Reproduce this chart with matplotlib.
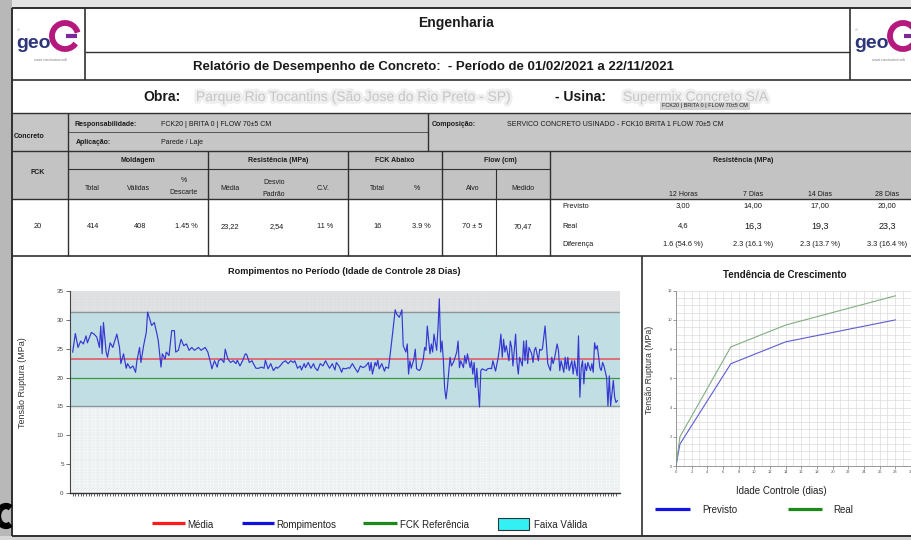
import matplotlib
matplotlib.use('Agg')
import matplotlib.pyplot as plt
from matplotlib.patches import Rectangle, Arc
import matplotlib.patheffects as pe
from matplotlib.ticker import MultipleLocator

plt.rcParams['font.family'] = ['Liberation Sans', 'DejaVu Sans']

# ---------------- data ----------------
ensaio = [0, 2, 4, 6, 8, 10, 11, 14, 16, 18, 20, 21, 22, 23, 25, 26, 28, 30, 31, 33, 35, 36, 38, 40, 41,
          43, 45, 47, 48, 50, 51, 53, 55, 56, 58, 59, 61, 63, 64, 66, 67, 69, 70, 72, 74, 76, 77, 79, 81,
          83, 85, 87, 89, 91, 94, 96, 99, 101,
          103, 104, 106, 108, 109, 111, 113, 114, 116, 118, 120, 122, 123, 125, 127, 129, 130, 132, 134,
          135, 137, 139, 141, 143, 144, 146, 148, 150, 152, 153, 155, 157, 159, 161, 163, 165, 166, 168,
          170, 171, 173, 174, 176, 178, 180, 181, 183, 185, 187, 189, 190, 192, 194, 196, 197, 199, 201,
          202, 204, 206,
          207, 209, 211, 213, 215, 217, 219, 221, 222, 223, 224, 226, 227, 228, 229, 231, 233, 234, 236,
          237, 239, 241, 242, 244, 245, 246, 247, 249, 250, 251, 252, 253, 255, 256, 257, 259, 260, 262,
          263, 264, 265, 267, 268, 269, 270, 272, 273, 274, 275, 276, 277, 278, 279, 280, 282, 283, 284,
          285, 287, 288, 289, 290, 292, 293, 294, 295, 297, 298, 299, 300, 301, 302, 304, 305, 306, 309,
          310,
          312, 313, 314, 316, 318, 319, 320, 321, 322, 323, 324, 326, 327, 328, 329, 331, 332, 333, 334,
          336, 337, 338, 339, 340, 341, 343, 344, 345, 346, 348, 349, 350, 351, 353, 354, 355, 357, 358,
          359, 360, 362, 363, 364, 365, 367, 368, 369, 370, 371, 373, 374, 375, 377, 378, 379, 380, 381,
          382, 383, 384, 385, 387, 388, 389, 390, 391, 392, 394, 395, 396, 397, 399, 400, 401, 402, 404,
          405, 406, 407]

rompimentos = [24.4, 27.6, 25.2, 26.3, 25.8, 27.2, 26.0, 27.8, 27.5, 27.0, 25.2, 28.9, 24.1, 29.5, 24.4,
               23.5, 26.0, 25.2, 26.0, 27.5, 25.2, 22.4, 24.1, 21.6, 22.4, 21.6, 22.0, 20.9, 22.9, 25.2,
               22.6, 25.5, 27.8, 31.3, 29.8, 29.0, 29.5, 27.5, 26.3, 21.8, 24.1, 23.2, 24.4, 23.8, 28.1,
               28.1, 24.4, 24.7, 26.6, 25.5, 25.8, 24.7, 25.2, 24.7, 25.2, 24.7, 25.2, 24.4,
               22.6, 21.5, 22.9, 21.8, 22.9, 23.2, 22.6, 24.9, 23.2, 22.6, 22.9, 22.4, 23.0, 22.0, 22.9,
               24.1, 24.0, 22.6, 22.9, 22.4, 21.6, 21.6, 21.8, 21.6, 23.0, 21.5, 22.4, 21.2, 21.8, 21.6,
               22.0, 22.6, 22.9, 22.4, 22.9, 22.6, 22.9, 21.6, 22.0, 21.3, 22.4, 21.7, 22.6, 21.6, 22.4,
               21.7, 21.2, 22.4, 22.0, 22.9, 22.4, 21.6, 22.4, 21.3, 22.6, 22.0, 20.9, 21.6, 21.5, 21.7,
               21.6, 22.4, 21.6, 20.9, 22.0, 21.7, 22.0, 22.6, 21.2, 22.6, 20.6, 22.6, 22.0, 23.0, 21.5,
               22.4, 21.1, 21.8, 21.6, 23.5, 27.5, 31.7, 31.0, 30.4, 31.0, 31.7, 25.5, 24.4, 25.8, 20.6,
               22.9, 21.6, 23.2, 24.9, 21.5, 21.2, 21.5, 23.2, 25.2, 24.7, 28.9, 24.1, 25.8, 24.4, 27.5,
               24.7, 28.6, 33.6, 24.4, 26.3, 22.9, 18.0, 16.3, 18.3, 23.5, 22.0, 22.4, 22.9, 24.4, 26.3,
               21.7, 22.9, 21.7, 23.8, 22.4, 24.1, 21.7, 22.9, 20.6, 22.6, 18.3, 21.6, 14.9, 21.2, 21.5,
               21.2, 21.5,
               21.6, 21.5, 22.9, 21.1, 23.5, 25.2, 27.5, 23.5, 26.6, 24.4, 25.5, 22.9, 26.3, 25.2, 22.0,
               27.5, 22.6, 20.6, 23.5, 22.0, 26.3, 22.9, 26.4, 22.4, 25.2, 24.1, 22.6, 24.7, 25.2, 22.9,
               24.9, 24.7, 24.9, 28.9, 25.8, 22.4, 21.2, 23.5, 22.4, 23.2, 25.8, 24.7, 21.2, 22.9, 20.9,
               23.5, 21.5, 23.5, 21.2, 22.9, 20.6, 22.9, 20.3, 27.2, 16.6, 21.7, 22.9, 18.9, 22.4, 21.2,
               22.6, 21.2, 22.4, 20.9, 26.0, 24.9, 25.5, 21.7, 21.2, 22.6, 22.0, 20.0, 15.1, 20.3, 15.1,
               19.5, 16.6, 15.7, 16.0]

media = 23.22
fck_referencia = 20.0
faixa_valida = (15.0, 31.4)
y_max_rompimentos = 35

idade_dias = [0, 0.5, 7, 14, 28]
previsto_curva = [0, 1.5, 7.0, 8.5, 10.0]
real_curva = [0, 2.0, 8.15, 9.65, 11.65]

moldagem = ['414', '408', '1.45 %']
resistencia = ['23,22', '2,54', '11 %']
fck_abaixo = ['16', '3.9 %']
flow = ['70 ± 5', '70,47']
idades_tab = ['12 Horas', '7 Dias', '14 Dias', '28 Dias']
previsto_tab = ['3,00', '14,00', '17,00', '20,00']
real_tab = ['4,6', '16,3', '19,3', '23,3']
diferenca_tab = ['1.6 (54.6 %)', '2.3 (16.1 %)', '2.3 (13.7 %)', '3.3 (16.4 %)']

# ---------------- figure / overlay ----------------
W, H = 912, 540
fig = plt.figure(figsize=(W / 100, H / 100), dpi=100)
fig.patch.set_facecolor('white')
ov = fig.add_axes([0, 0, 1, 1], zorder=0)
ov.set_xlim(0, W)
ov.set_ylim(H, 0)
ov.axis('off')


def box(x0, y0, x1, y1):
    return [x0 / W, 1 - y1 / H, (x1 - x0) / W, (y1 - y0) / H]


def rect(x0, y0, x1, y1, color, z=0):
    ov.add_patch(Rectangle((x0, y0), x1 - x0, y1 - y0, facecolor=color, edgecolor='none', zorder=z))


def ln(x0, y0, x1, y1, lw=1.0, color='#303030'):
    ov.plot([x0, x1], [y0, y1], color=color, lw=lw, solid_capstyle='butt', zorder=3)


def t(x, y, s, size=5, bold=False, ha='center', color='#1a1a1a', **kw):
    ov.text(x, y, s, fontsize=size, fontweight='bold' if bold else 'normal', ha=ha, va='center',
            color=color, zorder=4, **kw)


# page background strips
rect(0, 0, W, 8, '#e4e4e4')
rect(0, 0, 12, H, '#b8b8b8')
rect(0, 536, W, H, '#d6d6d6')
rect(12, 113, W, 151, '#c6c6c6')
rect(12, 151, W, 199, '#c3c3c3')

# black artifact bottom-left (drawn as a shape)
ov.add_patch(Arc((6, 516), 16, 20, theta1=60, theta2=300, color='black', lw=4.5, zorder=5))

# table lines
ln(12, 8, W, 8, 1.4)
ln(12, 8, 12, 536, 1.4)
ln(12, 536, W, 536, 1.4)
ln(85, 8, 85, 80, 1.2)
ln(850, 8, 850, 80, 1.2)
ln(85, 52, 850, 52, 1.0)
ln(12, 80, W, 80, 1.2)
ln(12, 113, W, 113, 1.0)
ln(68, 132, 428, 132, 0.7, '#555555')
ln(68, 113, 68, 256, 1.0)
ln(428, 113, 428, 151, 1.0)
ln(12, 151, W, 151, 1.0)
ln(68, 169, 550, 169, 0.8)
for xv in (208, 348, 442, 550):
    ln(xv, 151, xv, 256, 1.0)
ln(496, 169, 496, 256, 0.8)
ln(12, 199, W, 199, 1.0)
ln(12, 256, W, 256, 1.2)
ln(642, 256, 642, 536, 1.2)

# logos
for lx in (14, 852):
    ov.add_patch(Arc((lx + 51, 36), 26, 26, theta1=35, theta2=345, color='#b5197d', lw=4.2, zorder=4))
    ln(lx + 52, 36, lx + 63, 36, 3.0, '#7a2a9a')
    t(lx + 20, 44, 'geo', size=14, bold=True, color='#2c3679')
    t(lx + 4, 30, '©', size=3, color='#777777')
    t(lx + 36, 60, 'smart construction soft', size=2.3, color='#777777')

# titles
t(456, 23, 'Engenharia', size=10, bold=True)
t(433, 67, 'Relatório de Desempenho de Concreto:  - Período de 01/02/2021 a 22/11/2021', size=9.5, bold=True)
t(143, 97, 'Obra:', size=10, bold=True, ha='left')
blur = [pe.withStroke(linewidth=4, foreground='#efefef')]
t(196, 97, 'Parque Rio Tocantins (São Jose do Rio Preto - SP)', size=10, color='#c6c6c6', ha='left',
  path_effects=blur)
t(555, 97, '- Usina:', size=10, bold=True, ha='left')
t(623, 97, 'Supermix Concreto S/A', size=10, color='#c6c6c6', ha='left', path_effects=blur)
ov.text(705, 106, 'FCK20 | BRITA 0 | FLOW 70±5 CM', fontsize=4, ha='center', va='center', color='#222222',
        zorder=5, bbox=dict(boxstyle='square,pad=0.3', facecolor='#d2d2d2', edgecolor='none'))

# row 4
t(14, 137, 'Concreto', size=5, bold=True, ha='left')
t(75, 124, 'Responsabilidade:', size=5, bold=True, ha='left')
t(161, 124, 'FCK20 | BRITA 0 | FLOW 70±5 CM', size=5, ha='left')
t(76, 143, 'Aplicação:', size=5, bold=True, ha='left')
t(161, 143, 'Parede / Laje', size=5, ha='left')
t(432, 125, 'Composição:', size=5, bold=True, ha='left')
t(507, 125, 'SERVICO CONCRETO USINADO - FCK10 BRITA 1 FLOW 70±5 CM', size=5, ha='left')

# row 5 headers
t(38, 172, 'FCK', size=5, bold=True)
t(138, 160, 'Moldagem', size=5, bold=True)
t(278, 160, 'Resistência (MPa)', size=5, bold=True)
t(395, 160, 'FCK Abaixo', size=5, bold=True)
t(500, 160, 'Flow (cm)', size=5, bold=True)
t(743, 161, 'Resistência (MPa)', size=5, bold=True)
t(92, 188, 'Total', size=5)
t(139, 188, 'Válidas', size=5)
t(184, 180, '%', size=5)
t(184, 193, 'Descarte', size=5)
t(230, 188, 'Média', size=5)
t(274, 182, 'Desvio', size=5)
t(274, 194, 'Padrão', size=5)
t(323, 188, 'C.V.', size=5)
t(377, 188, 'Total', size=5)
t(417, 188, '%', size=5)
t(473, 188, 'Alvo', size=5)
t(523, 188, 'Medido', size=5)
col_x_idade = [683, 753, 820, 887]
for xv, s in zip(col_x_idade, idades_tab):
    t(xv, 194, s, size=5)

# data row
t(38, 227, '20', size=5.3)
for xv, s in zip((93, 140, 186), moldagem):
    t(xv, 227, s, size=5.3)
for xv, s in zip((230, 277, 325), resistencia):
    t(xv, 227, s, size=5.3)
for xv, s in zip((378, 421), fck_abaixo):
    t(xv, 227, s, size=5.3)
for xv, s in zip((472, 523), flow):
    t(xv, 227, s, size=5.3)
t(562, 207, 'Previsto', size=5.3, ha='left')
t(562, 226, 'Real', size=5.3, ha='left')
t(562, 245, 'Diferença', size=5.3, ha='left')
for xv, a, b, c in zip(col_x_idade, previsto_tab, real_tab, diferenca_tab):
    t(xv, 206, a, size=5.5)
    t(xv, 226, b, size=6.5 if b != real_tab[0] else 5.5)
    t(xv, 245, c, size=5.3)

# ---------------- main chart ----------------
t(344, 272, 'Rompimentos no Período (Idade de Controle 28 Dias)', size=6.6, bold=True)
ov.text(23, 383, 'Tensão Ruptura (MPa)', fontsize=6.5, rotation=90, ha='center', va='center', color='#333333')

ax = fig.add_axes(box(70, 290.7, 620, 493.3), zorder=2)
ax.set_facecolor('#f7f9fa')
ax.axhspan(faixa_valida[1], y_max_rompimentos, color='#e3e3e3', zorder=0)
ax.axhspan(faixa_valida[0], faixa_valida[1], color='#bde0e6', zorder=0)
ax.set_axisbelow(True)
ax.xaxis.set_minor_locator(MultipleLocator(2))
ax.yaxis.set_minor_locator(MultipleLocator(0.5))
ax.grid(which='both', color='#d2dadd', lw=0.3, alpha=0.7)
ax.axhline(faixa_valida[0], color='#8e9699', lw=1.0, zorder=1)
ax.axhline(faixa_valida[1], color='#8e9699', lw=1.0, zorder=1)
ax.axhline(fck_referencia, color='#3c9a3c', lw=0.9, zorder=2)
ax.axhline(media, color='#e26470', lw=1.3, zorder=2)
ax.plot(ensaio, rompimentos, color='#3636d2', lw=0.85, zorder=3)
ax.set_xlim(-2, 409)
ax.set_ylim(0, y_max_rompimentos)
ax.set_yticks(range(0, 36, 5))
ax.set_xticks(range(0, 408, 2))
ax.set_xticklabels([])
ax.tick_params(axis='x', which='major', length=2.2, width=0.6, color='#444444')
ax.tick_params(axis='x', which='minor', length=0)
ax.tick_params(axis='y', which='major', labelsize=4.5, length=3, width=0.6, color='#555555',
               labelcolor='#444444', pad=1.5)
ax.tick_params(axis='y', which='minor', length=0)
for s in ('top', 'right'):
    ax.spines[s].set_visible(False)
ax.spines['left'].set_color('#444444')
ax.spines['bottom'].set_color('#333333')
ax.spines['left'].set_linewidth(0.8)
ax.spines['bottom'].set_linewidth(1.0)

# legend main
ln(152, 523, 185, 523, 2.3, '#ff1a1a')
t(187, 525, 'Média', size=7, ha='left', color='#222222')
ln(242, 523, 274, 523, 2.3, '#1010e0')
t(276, 525, 'Rompimentos', size=7, ha='left', color='#222222')
ln(363, 523, 397, 523, 2.3, '#1a8a1a')
t(400, 525, 'FCK Referência', size=7, ha='left', color='#222222')
ov.add_patch(Rectangle((498, 518), 31, 12, facecolor='#33f0f5', edgecolor='#333333', lw=0.8, zorder=4))
t(534, 525, 'Faixa Válida', size=7, ha='left', color='#222222')

# ---------------- growth chart ----------------
t(785, 275, 'Tendência de Crescimento', size=7, bold=True)
ov.text(650, 370, 'Tensão Ruptura (MPa)', fontsize=6.3, rotation=90, ha='center', va='center', color='#333333')
t(781, 491, 'Idade Controle (dias)', size=7, color='#222222')

ax2 = fig.add_axes(box(676, 290.7, 911, 466), zorder=2)
ax2.set_facecolor('white')
ax2.set_xlim(0, 30)
ax2.set_ylim(0, 12)
ax2.set_xticks(range(0, 31, 2))
ax2.set_yticks(range(0, 13, 2))
ax2.xaxis.set_minor_locator(MultipleLocator(1))
ax2.yaxis.set_minor_locator(MultipleLocator(0.5))
ax2.set_axisbelow(True)
ax2.grid(which='both', color='#dcdcdc', lw=0.5)
ax2.plot(idade_dias, previsto_curva, color='#5c5cd4', lw=0.8)
ax2.plot(idade_dias, real_curva, color='#82ad82', lw=0.8)
ax2.tick_params(which='major', labelsize=3, length=2, width=0.5, color='#777777', labelcolor='#555555', pad=1)
ax2.tick_params(which='minor', length=0)
for s in ('top', 'right'):
    ax2.spines[s].set_visible(False)
ax2.spines['left'].set_color('#888888')
ax2.spines['bottom'].set_color('#888888')
ax2.spines['left'].set_linewidth(0.6)
ax2.spines['bottom'].set_linewidth(0.6)

ln(655, 509, 690, 509, 2.3, '#1414e6')
t(702, 510, 'Previsto', size=7, ha='left', color='#222222')
ln(788, 509, 822, 509, 2.3, '#1a8a1a')
t(833, 510, 'Real', size=7, ha='left', color='#222222')

fig.savefig('out.png', dpi=100)
